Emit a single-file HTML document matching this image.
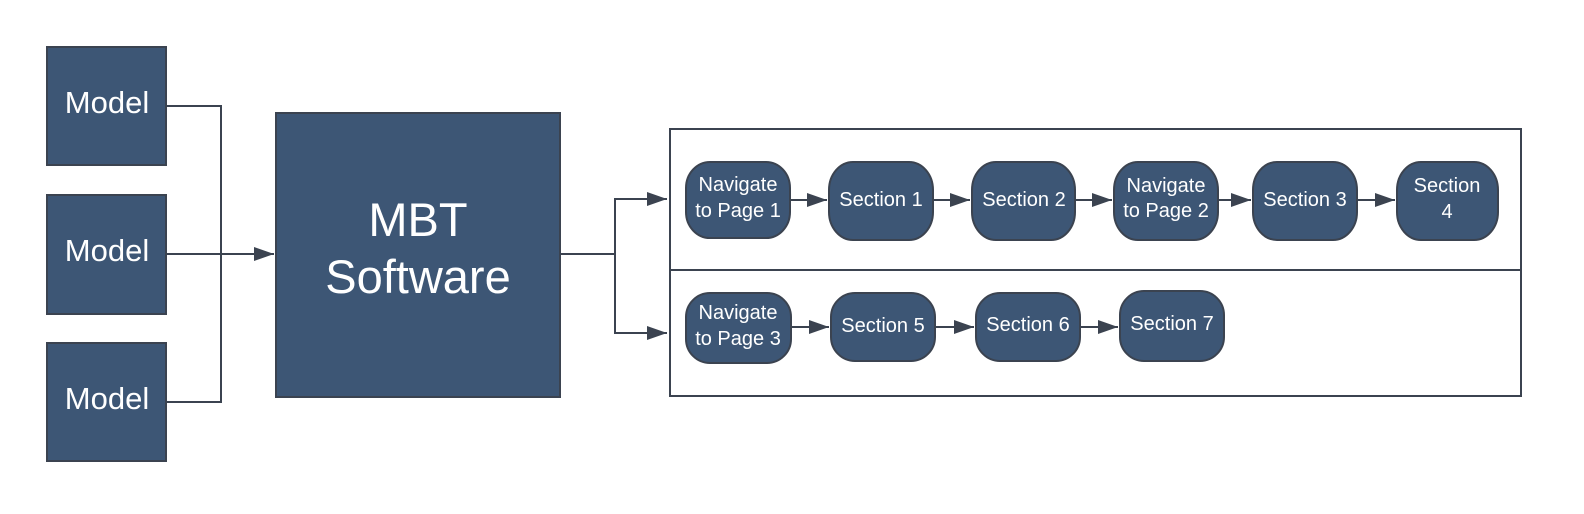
<!DOCTYPE html>
<html><head><meta charset="utf-8"><style>
html,body{margin:0;padding:0;background:#fff;overflow:hidden;width:1584px;height:514px;}
svg{display:block;}
text{font-family:"Liberation Sans",sans-serif;fill:#fff;text-anchor:middle;}
</style></head><body>
<svg width="1584" height="514" viewBox="0 0 1584 514" xmlns="http://www.w3.org/2000/svg">
<defs>
<marker id="ar" markerWidth="20" markerHeight="14" refX="20" refY="7" orient="auto" markerUnits="userSpaceOnUse">
<path d="M0,0 L20,7 L0,14 Z" fill="#3b4350"/>
</marker>
</defs>
<g fill="#3d5675" stroke="#3b4350" stroke-width="2">
<rect x="47" y="47" width="119" height="118"/>
<rect x="47" y="195" width="119" height="119"/>
<rect x="47" y="343" width="119" height="118"/>
<rect x="276" y="113" width="284" height="284"/>
</g>
<g fill="none" stroke="#3b4350" stroke-width="2">
<polyline points="166,106 221,106 221,402 166,402"/>
<line x1="166" y1="254" x2="274" y2="254" marker-end="url(#ar)"/>
<polyline points="560,254 615,254 615,199 667,199" marker-end="url(#ar)"/>
<polyline points="615,254 615,333 667,333" marker-end="url(#ar)"/>
<rect x="670" y="129" width="851" height="267"/>
<line x1="670" y1="270" x2="1521" y2="270"/>
<line x1="790" y1="200" x2="827" y2="200" marker-end="url(#ar)"/>
<line x1="933" y1="200" x2="970" y2="200" marker-end="url(#ar)"/>
<line x1="1075" y1="200" x2="1112" y2="200" marker-end="url(#ar)"/>
<line x1="1218" y1="200" x2="1251" y2="200" marker-end="url(#ar)"/>
<line x1="1357" y1="200" x2="1395" y2="200" marker-end="url(#ar)"/>
<line x1="791" y1="327" x2="829" y2="327" marker-end="url(#ar)"/>
<line x1="935" y1="327" x2="974" y2="327" marker-end="url(#ar)"/>
<line x1="1080" y1="327" x2="1118" y2="327" marker-end="url(#ar)"/>
</g>
<g fill="#3d5675" stroke="#3b4350" stroke-width="2">
<rect x="686" y="162" width="104" height="76" rx="24" ry="26"/>
<rect x="829" y="162" width="104" height="78" rx="24" ry="28"/>
<rect x="972" y="162" width="103" height="78" rx="24" ry="28"/>
<rect x="1114" y="162" width="104" height="78" rx="24" ry="28"/>
<rect x="1253" y="162" width="104" height="78" rx="24" ry="28"/>
<rect x="1397" y="162" width="101" height="78" rx="24" ry="28"/>
<rect x="686" y="293" width="105" height="70" rx="24" ry="24"/>
<rect x="831" y="293" width="104" height="68" rx="24" ry="24"/>
<rect x="976" y="293" width="104" height="68" rx="24" ry="24"/>
<rect x="1120" y="291" width="104" height="70" rx="24" ry="24"/>
</g>
<g font-size="31">
<text x="107" y="113">Model</text>
<text x="107" y="261">Model</text>
<text x="107" y="409">Model</text>
</g>
<g font-size="47">
<text x="418" y="236">MBT</text>
<text x="418" y="293">Software</text>
</g>
<g font-size="20">
<text x="738" y="191">Navigate</text><text x="738" y="217">to Page 1</text>
<text x="881" y="206">Section 1</text>
<text x="1024" y="206">Section 2</text>
<text x="1166" y="192">Navigate</text><text x="1166" y="217">to Page 2</text>
<text x="1305" y="206">Section 3</text>
<text x="1447" y="192">Section</text><text x="1447" y="218">4</text>
<text x="738" y="319">Navigate</text><text x="738" y="345">to Page 3</text>
<text x="883" y="332">Section 5</text>
<text x="1028" y="331">Section 6</text>
<text x="1172" y="330">Section 7</text>
</g>
</svg>
</body></html>
